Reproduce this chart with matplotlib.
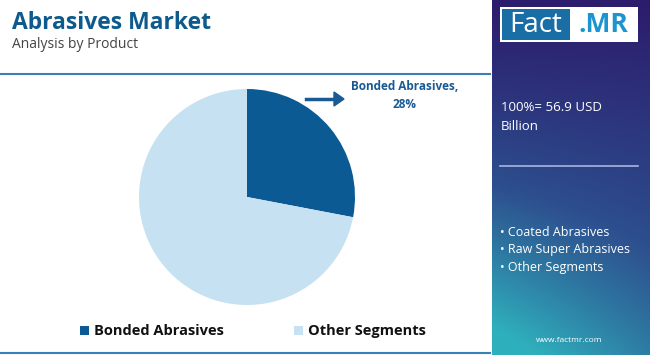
import numpy as np
import matplotlib.pyplot as plt
from matplotlib.patches import Rectangle
from matplotlib.colors import LinearSegmentedColormap

# data
segments = ['Bonded Abrasives', 'Other Segments']
shares = [28, 72]
colors = ['#0b5a94', '#c6e1f1']
total_label = '100%= 56.9 USD\nBillion'
other_items = ['Coated Abrasives', 'Raw Super Abrasives', 'Other Segments']

W, H = 650, 355
fig = plt.figure(figsize=(W / 100, H / 100), dpi=100)
plt.rcParams['font.family'] = ['Open Sans', 'DejaVu Sans']

def fx(x):
    return x / W

def fy(y):
    return 1 - y / H

# right gradient panel
pan = fig.add_axes([fx(492), 0, fx(650 - 492), 1])
yy, xx = np.mgrid[0:1:200j, 0:1:100j]
t = np.clip(0.75 * yy + 0.35 * (1 - xx) * yy ** 1.5, 0, 1)
cmap = LinearSegmentedColormap.from_list('g', ['#2c1c6c', '#2d4f8e', '#2fb9c1'])
pan.imshow(t, cmap=cmap, aspect='auto', extent=[0, 1, 1, 0], vmin=0, vmax=1.05)
pan.set_xlim(0, 1)
pan.set_ylim(1, 0)
pan.axis('off')

# logo
fig.patches.append(Rectangle((fx(500), fy(42)), fx(138), 35 / H, transform=fig.transFigure,
                             facecolor='white', edgecolor='none', zorder=3))
fig.patches.append(Rectangle((fx(502), fy(40)), fx(68), 31 / H, transform=fig.transFigure,
                             facecolor='#1a6ea6', edgecolor='none', zorder=4))
fig.text(fx(536), fy(25), 'Fact', color='white', fontsize=20, ha='center', va='center', zorder=5)
fig.text(fx(603), fy(25), '.MR', color='#1c94d2', fontsize=19, fontweight='bold',
         ha='center', va='center', zorder=5)

fig.text(fx(501), fy(117), total_label, color='white', fontsize=9.5, ha='left', va='center',
         linespacing=1.6)
fig.add_artist(plt.Line2D([fx(500), fx(638)], [fy(166), fy(166)], color='#a9b4e0', lw=1.2))
for i, item in enumerate(other_items):
    fig.text(fx(500), fy(232 + 17.5 * i), '• ' + item, color='white', fontsize=9,
             ha='left', va='center')
fig.text(fx(569), fy(340), 'www.factmr.com', color='white', fontsize=6, ha='center', va='center')

# header
fig.text(fx(12), fy(23), 'Abrasives Market', color='#0d5a8c', fontsize=16.5, fontweight='bold',
         ha='left', va='center')
fig.text(fx(12), fy(45), 'Analysis by Product', color='#444444', fontsize=10, ha='left', va='center')
fig.add_artist(plt.Line2D([0, fx(490)], [fy(74), fy(74)], color='#3a80b8', lw=1.5))
fig.add_artist(plt.Line2D([0, fx(490)], [fy(353), fy(353)], color='#3a80b8', lw=1.5))

# pie
r = 108
cx, cy = 247, 197
ax = fig.add_axes([fx(cx - r), fy(cy + r), fx(2 * r), 2 * r / H])
ax.pie(shares, colors=colors, startangle=90, counterclock=False, radius=1,
       wedgeprops=dict(linewidth=0))
ax.set_xlim(-1, 1)
ax.set_ylim(-1, 1)
ax.set_aspect('equal')
ax.axis('off')

# annotation
fig.add_artist(plt.Line2D([fx(306), fx(336)], [fy(99), fy(99)], color='#1a5a94', lw=2.5))
fig.patches.append(plt.Polygon([[fx(334), fy(92)], [fx(344), fy(99)], [fx(334), fy(106)]],
                               closed=True, transform=fig.transFigure, color='#1a5a94'))
fig.text(fx(405), fy(87), segments[0] + ',', color='#1a5a94', fontsize=8.5, fontweight='bold',
         ha='center', va='center')
fig.text(fx(405), fy(104), '%d%%' % shares[0], color='#1a5a94', fontsize=8.5, fontweight='bold',
         ha='center', va='center')

# legend
leg_x = [80, 294]
for x, name, c in zip(leg_x, segments, colors):
    fig.patches.append(Rectangle((fx(x), fy(335)), fx(9), 9 / H, transform=fig.transFigure,
                                 facecolor=c, edgecolor='none'))
    fig.text(fx(x + 14), fy(331), name, color='#111111', fontsize=10.5, fontweight='bold',
             ha='left', va='center')

fig.savefig('out.png', dpi=100)
